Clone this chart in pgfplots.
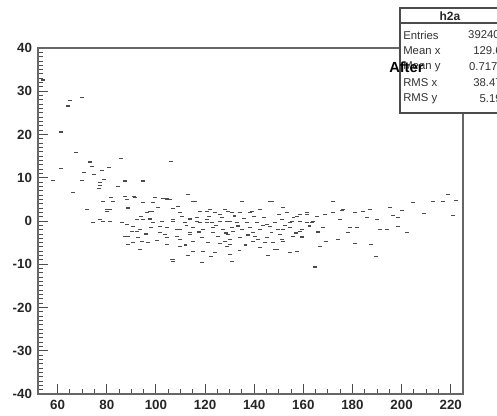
\documentclass[border=0pt]{standalone}
\usepackage{fontspec}
\setmainfont{Liberation Sans}
\usepackage{pgfplots}
\pgfplotsset{compat=1.18}

% h2a scatter: offset versus position, after correction
\pgfplotstableread{
x y
54.0 32.6
65.0 27.9
64.2 26.6
69.9 28.6
61.4 20.6
67.5 15.9
61.4 12.2
58.1 9.4
66.3 6.6
85.8 14.5
73.2 13.6
74.0 12.6
70.7 11.2
78.1 11.7
80.9 12.4
74.8 10.8
78.9 9.6
77.2 8.2
76.8 7.5
69.9 9.4
87.4 9.2
84.6 8.0
94.8 9.2
106.2 13.8
81.7 5.4
88.2 5.0
91.1 5.7
94.8 4.3
99.6 5.4
104.5 5.2
98.4 2.2
81.3 2.7
88.6 3.1
72.0 2.7
74.4 -0.3
80.1 2.2
77.2 8.9
113.1 6.1
82.5 4.5
78.5 4.5
87.4 5.7
91.5 5.4
98.8 4.3
102.9 5.2
105.7 5.0
115.9 4.5
135.1 4.5
147.3 4.5
172.1 4.5
80.1 2.7
88.6 2.9
97.6 2.2
100.9 3.1
107.0 2.9
109.8 2.0
120.8 2.2
126.1 1.5
129.4 2.2
134.2 2.0
138.3 2.0
142.4 2.7
151.8 3.1
158.7 1.5
165.6 1.0
172.1 2.0
176.2 2.7
77.2 0.3
81.3 -0.1
88.2 -0.8
92.3 0.3
94.8 0.3
98.8 -0.3
107.0 -0.1
116.7 0.8
120.8 -0.3
129.0 -0.1
137.1 -0.3
145.2 -0.8
154.6 -0.3
164.0 -0.1
175.0 0.3
93.5 -2.0
90.3 -2.4
101.7 -2.7
108.6 -2.0
113.9 -2.7
123.3 -2.7
131.4 -2.4
139.5 -2.7
151.8 -2.0
87.4 -3.6
92.7 -3.8
104.5 -3.8
109.8 -4.3
130.2 -4.3
141.6 -4.3
151.3 -4.3
159.5 -3.8
104.5 -5.4
129.0 -5.9
148.5 -6.6
166.8 -5.9
174.1 -4.3
154.6 -7.3
145.6 -8.0
113.1 -8.0
124.1 -7.3
107.0 -9.4
118.8 -9.6
131.0 -9.4
164.8 -10.6
218.9 6.1
222.2 4.8
212.8 4.5
216.9 4.5
204.7 4.3
209.2 1.7
221.0 1.3
195.3 3.1
200.2 2.4
196.5 1.3
198.6 0.8
191.3 -2.0
194.1 -2.0
198.6 -1.3
202.2 -2.7
187.2 2.7
184.3 2.2
190.0 0.3
186.0 0.8
181.9 -1.5
179.0 -1.5
178.2 -2.7
187.6 -5.4
189.6 -8.2
181.1 -5.2
169.3 -4.8
175.8 2.4
181.1 2.0
168.9 1.5
161.5 1.5
161.5 -0.3
168.0 -1.5
159.5 -2.0
159.5 -3.6
104.5 5.0
115.1 4.5
146.5 4.5
109.0 3.4
118.0 2.2
122.0 2.7
124.1 2.0
128.1 2.7
131.0 2.0
139.1 2.2
153.4 2.0
157.5 1.0
161.5 2.0
102.5 -0.1
107.0 0.3
111.9 -0.3
116.7 -0.1
118.0 -0.3
120.8 0.3
122.8 -0.3
126.1 -0.1
130.2 -0.1
133.0 -0.3
141.2 -0.3
148.5 -0.3
151.3 0.3
155.4 -0.1
158.7 -0.1
163.6 -0.3
104.5 -1.5
109.8 -2.0
115.1 -1.5
119.2 -2.0
123.3 -1.5
127.3 -2.0
131.0 -1.5
135.1 -2.0
138.3 -1.5
142.4 -2.0
146.5 -1.3
149.7 -2.0
154.6 -1.5
158.7 -2.4
103.7 -3.1
108.6 -3.6
113.9 -3.1
118.8 -3.8
125.3 -3.6
129.4 -3.1
134.2 -3.8
140.4 -3.6
145.2 -3.8
150.5 -3.1
155.8 -3.6
115.1 -4.8
121.2 -5.0
128.1 -4.8
139.5 -4.8
147.7 -5.0
151.8 -4.8
109.8 -5.9
130.2 -5.4
142.4 -6.1
149.3 -6.6
157.5 -7.1
115.1 -7.1
119.2 -7.1
130.2 -7.8
107.0 -8.9
101.7 -1.3
78.5 -0.1
86.2 -0.3
90.7 -1.3
92.3 -2.4
88.6 -3.6
90.7 -5.0
88.6 -5.4
94.3 -4.8
96.8 -5.0
93.5 -6.6
106.6 -8.9
94.0 1.0
96.5 2.0
98.0 -1.5
96.0 -3.0
100.5 -4.5
97.5 0.5
110.5 1.0
112.5 -1.0
114.0 0.5
117.5 -2.5
121.5 1.0
124.5 -1.0
127.0 0.8
128.5 -2.8
132.0 1.2
133.5 -1.2
136.0 0.6
137.5 -3.2
140.0 1.0
143.5 -1.0
144.0 0.8
147.0 -2.6
150.0 1.5
152.5 -1.0
156.0 0.8
157.0 -2.8
162.5 -1.2
166.0 -2.5
112.0 -5.5
126.0 -5.2
136.5 -5.6
144.5 -5.0
134.0 -6.8
122.5 -8.2
}\scatterdata

\begin{document}
\begin{tikzpicture}
% 1 px of the 497 x 415 canvas = 0.75 pt
\path[use as bounding box] (0pt,0pt) rectangle (372.75pt,311.25pt);
\begin{axis}[
  at={(28.5pt,15.75pt)}, anchor=south west,
  scale only axis, width=318.75pt, height=259.5pt,
  xmin=52, xmax=225, ymin=-40, ymax=40,
  xtick={60,80,...,220}, ytick={-40,-30,...,40},
  minor x tick num=3, minor y tick num=9,
  tick align=inside, xtick pos=left, ytick pos=left,
  major tick length=7.5pt, minor tick length=3.75pt,
  axis line style={draw=black!60, line width=0.9pt},
  every tick/.style={draw=black!70, line width=0.7pt},
  tick label style={font=\fontsize{10}{12}\selectfont\bfseries, text=black!85},
  /pgf/number format/assume math mode=true,
  xticklabel style={yshift=-1pt},
  yticklabel style={xshift=-1pt},
  clip=false,
]
\addplot[only marks, mark=-, mark size=1.4pt, draw=black!70,
  mark options={line width=1.1pt}] table {\scatterdata};
\end{axis}
% statistics box
\begin{scope}[x=0.75pt,y=0.75pt]
\draw[fill=white, draw=black!70, line width=0.8pt] (400,407) rectangle (510,302);
\draw[black!70, line width=0.8pt] (400,392) -- (510,392);
\node[font=\fontsize{9}{10}\selectfont\bfseries, text=black!85] at (450,399) {h2a};
\begin{scope}[every node/.style={font=\fontsize{8.5}{10}\selectfont, text=black!80, inner sep=0pt}]
\node[anchor=west] at (403,380) {Entries};
\node[anchor=west] at (403,364) {Mean x};
\node[anchor=west] at (403,348) {Mean y};
\node[anchor=west] at (403,332) {RMS x};
\node[anchor=west] at (403,316) {RMS y};
\node[anchor=east] at (500,380) {39240};
\node[anchor=east] at (502,364) {129.6};
\node[anchor=east] at (504,348) {0.7179};
\node[anchor=east] at (502,332) {38.47};
\node[anchor=east] at (502,316) {5.19};
\end{scope}
\node[font=\fontsize{11}{12}\selectfont\bfseries, anchor=west, inner sep=0pt] at (389,348) {After};
\end{scope}
\end{tikzpicture}
\end{document}
